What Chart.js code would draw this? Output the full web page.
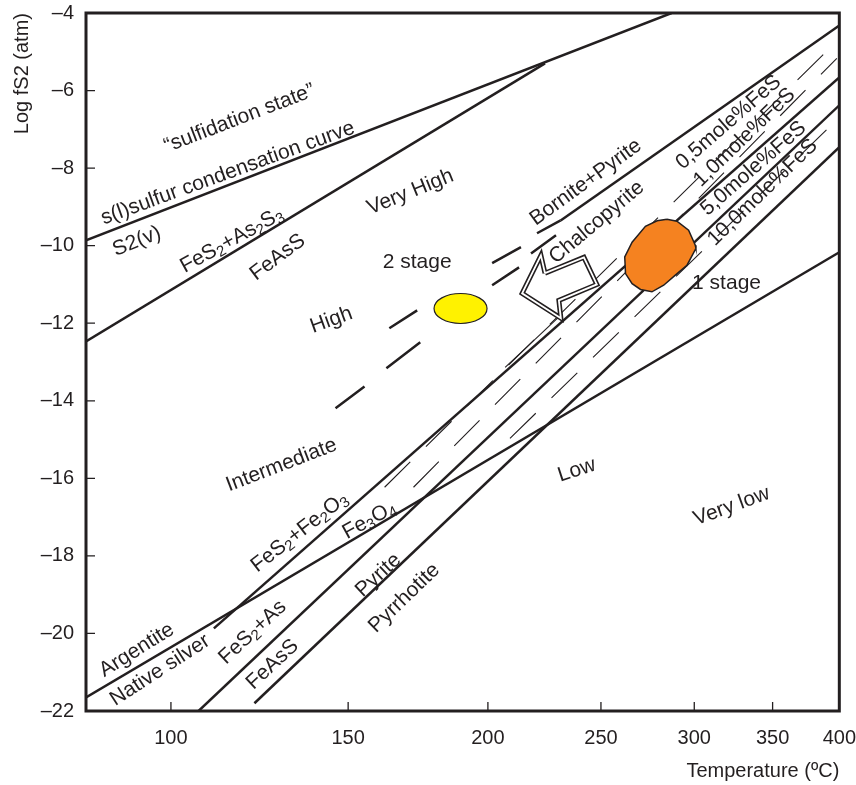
<!DOCTYPE html>
<html>
<head>
<meta charset="utf-8">
<script src="https://cdn.jsdelivr.net/npm/chart.js@4.4.1/dist/chart.umd.min.js"></script>
<style>
  html, body { margin: 0; padding: 0; background: #fff; overflow: hidden; }
  canvas { display: block; }
</style>
</head>
<body>
<canvas id="chart" width="856" height="785"></canvas>
<script>
// all temperatures in °C, all fugacities as log fS2 (atm)
const tickTemps = [100, 150, 200, 250, 300, 350, 400];
const tickLogs = [-22, -20, -18, -16, -14, -12, -10, -8, -6, -4];

const sulfurCurveT = [80, 287];
const sulfurCurveLog = [-9.86, -4.0];
const orpimentT = [80, 224];            // FeS2+As2S3 / FeAsS
const orpimentLog = [-12.47, -5.30];
const borniteT = [400, 231];            // Bornite+Pyrite / Chalcopyrite
const borniteLog = [-4.32, -9.35];
const hematiteT = [111, 400];           // FeS2+Fe2O3 / Fe3O4
const hematiteLog = [-19.87, -5.66];
const argentiteT = [80, 400];           // Argentite / Native silver
const argentiteLog = [-21.65, -10.17];
const arsenicT = [107, 400];            // FeS2+As / FeAsS
const arsenicLog = [-22, -6.38];
const pyrrhotiteT = [122, 400];         // Pyrite / Pyrrhotite
const pyrrhotiteLog = [-21.8, -7.46];
const chalcoT = [207, 230];
const chalcoLog = [-13.14, -11.85];

// sphalerite FeS isopleths (thin dashed)
const isoAT = [162, 397];
const isoALog = [-16.23, -4.76];
const isoBT = [172, 398];
const isoBLog = [-16.23, -5.17];
const isoCT = [209, 400];
const isoCLog = [-14.97, -6.69];

// sulfidation state boundaries (dashed, null = gap)
const highT = [231, 220.5, null, 213.6, 201.7, null, 173.3, 163.6];
const highLog = [-9.35, -9.68, null, -10.04, -10.45, null, -11.67, -12.13];
const interT = [228.9, 217.9, null, 212.8, 201.7, null, 174.4, 162.6, null, 155.3, 146.0];
const interLog = [-9.73, -10.20, null, -10.56, -11.02, null, -12.49, -13.16, null, -13.63, -14.19];

// stage 1 field (orange) and stage 2 point (yellow)
const stage1T = [284.4, 290.0, 296.7, 300.6, 301.0, 295.7, 289.1, 282.6, 276.2, 270.1, 265.7, 262.3, 261.9, 265.7, 272.7, 279.0, 284.4];
const stage1Log = [-9.32, -9.37, -9.60, -9.99, -10.07, -10.51, -10.76, -11.02, -11.19, -11.13, -10.98, -10.72, -10.29, -9.91, -9.50, -9.36, -9.32];
const stage2T = 189.3;
const stage2Log = -11.62;

// evolution arrow
const arrowT = [224.0, 241.8, 248.0, 230.2, 231.1, 214.1, 222.2, 224.0];
const arrowLog = [-10.71, -10.30, -11.00, -11.41, -11.87, -11.23, -10.25, -10.71];

const notes = [
  ['\u201csulfidation state\u201d', 117.9, -6.72, -21],
  ['s(l)sulfur condensation curve', 114.7, -8.13, -20],
  ['S2(v)', 91.7, -9.89, -22],
  ['FeS_2+As_2S_3', 115.8, -9.86, -29],
  ['FeAsS', 128.6, -10.30, -37],
  ['Very High', 170.9, -8.62, -22],
  ['2 stage', 173.3, -10.43, 0],
  ['High', 144.7, -11.92, -20],
  ['Bornite+Pyrite', 242.7, -8.37, -36],
  ['Chalcopyrite', 248.0, -9.40, -40],
  ['0,5mole%FeS', 320.9, -6.82, -41],
  ['1,0mole%FeS', 331.1, -7.21, -44],
  ['5,0mole%FeS', 337.0, -8.01, -41],
  ['10,0mole%FeS', 343.1, -8.63, -44],
  ['1 stage', 319.6, -10.97, 0],
  ['Intermediate', 129.7, -15.66, -21],
  ['FeS_2+Fe_2O_3', 135.0, -17.39, -38],
  ['Fe_3O_4', 156.9, -17.08, -29],
  ['Argentite', 91.7, -20.43, -32],
  ['Native silver', 97.3, -20.95, -33],
  ['FeS_2+As', 121.5, -19.97, -43],
  ['FeAsS', 127.1, -20.80, -43],
  ['Pyrite', 159.9, -18.50, -43],
  ['Pyrrhotite', 168.8, -19.09, -44],
  ['Low', 238.5, -15.79, -18],
  ['Very low', 322.8, -16.72, -20],
];

const INK = '#231f20';
const FAMILY = '"Liberation Sans", Arial, Helvetica, sans-serif';
Chart.defaults.font.family = FAMILY;
Chart.defaults.color = INK;

// x axis is linear in -1000/T(K), so hot is on the right
const inv = t => -1000 / (t + 273.15);

const line = (T, L, extra) => Object.assign({
  type: 'scatter',
  showLine: true,
  data: T.map((t, i) => ({ x: t === null ? null : inv(t), y: L[i] })),
  borderColor: INK,
  borderWidth: 2.5,
  pointRadius: 0,
  tension: 0,
  fill: false,
  order: 5
}, extra);

const thinDash = { borderWidth: 1.1, borderDash: [36, 22] };

const datasets = [
  line(stage1T, stage1Log, { fill: 'shape', backgroundColor: '#f58220', borderWidth: 1.5, order: 0 }),
  line(arrowT, arrowLog, { borderColor: '#fff', borderWidth: 1.8, order: 1 }),
  line(arrowT, arrowLog, { fill: 'shape', backgroundColor: '#fff', borderWidth: 5, borderJoinStyle: 'miter', order: 2 }),
  line(sulfurCurveT, sulfurCurveLog),
  line(orpimentT, orpimentLog),
  line(borniteT, borniteLog),
  line(hematiteT, hematiteLog),
  line(argentiteT, argentiteLog),
  line(arsenicT, arsenicLog),
  line(pyrrhotiteT, pyrrhotiteLog),
  line(chalcoT, chalcoLog, { borderWidth: 1.1 }),
  line(isoAT, isoALog, thinDash),
  line(isoBT, isoBLog, thinDash),
  line(isoCT, isoCLog, thinDash),
  line(highT, highLog),
  line(interT, interLog),
];

function drawRich(ctx, text) {
  const parts = text.split(/(_\d)/).filter(Boolean).map(p =>
    p[0] === '_' ? { t: p.slice(1), sub: true } : { t: p, sub: false });
  let w = 0;
  parts.forEach(p => {
    ctx.font = (p.sub ? '15px ' : '21px ') + FAMILY;
    p.w = ctx.measureText(p.t).width;
    w += p.w;
  });
  let x = -w / 2;
  parts.forEach(p => {
    ctx.font = (p.sub ? '15px ' : '21px ') + FAMILY;
    ctx.fillText(p.t, x, p.sub ? 5 : 0);
    x += p.w;
  });
}

const decorations = {
  id: 'decorations',
  afterDatasetsDraw(chart) {
    const { ctx, scales: { x, y } } = chart;
    ctx.save();
    // stage 2 ellipse
    ctx.beginPath();
    ctx.ellipse(x.getPixelForValue(inv(stage2T)), y.getPixelForValue(stage2Log), 26.5, 15, 0, 0, Math.PI * 2);
    ctx.fillStyle = '#fff200';
    ctx.fill();
    ctx.lineWidth = 1.2;
    ctx.strokeStyle = INK;
    ctx.stroke();

    ctx.fillStyle = INK;
    ctx.textAlign = 'left';
    ctx.textBaseline = 'middle';
    notes.forEach(([text, t, v, angle]) => {
      ctx.save();
      ctx.translate(x.getPixelForValue(inv(t)), y.getPixelForValue(v));
      ctx.rotate(angle * Math.PI / 180);
      drawRich(ctx, text);
      ctx.restore();
    });
    ctx.restore();
  },
  afterDraw(chart) {
    const { ctx, chartArea: a, scales: { x, y } } = chart;
    ctx.save();
    ctx.strokeStyle = INK;
    ctx.lineWidth = 1.3;
    ctx.beginPath();
    x.ticks.forEach(tk => {
      const px = x.getPixelForValue(tk.value);
      ctx.moveTo(px, a.bottom);
      ctx.lineTo(px, a.bottom - 9);
    });
    y.ticks.forEach(tk => {
      const py = y.getPixelForValue(tk.value);
      ctx.moveTo(a.left, py);
      ctx.lineTo(a.left + 9, py);
    });
    ctx.stroke();
    ctx.lineWidth = 3;
    ctx.strokeRect(a.left, a.top, a.right - a.left, a.bottom - a.top);
    ctx.restore();
  }
};

// invisible tick marks only used to space the tick labels from the frame
const spacer = len => ({
  display: true,
  drawOnChartArea: false,
  drawTicks: true,
  tickLength: len,
  color: 'transparent',
  tickColor: 'transparent'
});

new Chart(document.getElementById('chart'), {
  type: 'scatter',
  data: { datasets },
  options: {
    responsive: false,
    animation: false,
    events: [],
    layout: { padding: { top: 13, left: 0, right: 0, bottom: 0 } },
    plugins: { legend: { display: false }, tooltip: { enabled: false } },
    scales: {
      x: {
        type: 'linear',
        min: inv(80),
        max: inv(400),
        afterBuildTicks: s => { s.ticks = tickTemps.map(t => ({ value: inv(t) })); },
        afterFit: s => { s.height = 74; },
        ticks: {
          callback: v => Math.round(-1000 / v - 273.15),
          font: { size: 20 },
          padding: 0,
          maxRotation: 0,
          autoSkip: false
        },
        grid: spacer(15),
        border: { display: false },
        title: {
          display: true,
          text: 'Temperature (ºC)',
          align: 'end',
          font: { size: 20 },
          padding: { top: 0, bottom: 2 }
        }
      },
      y: {
        min: -22,
        max: -4,
        afterBuildTicks: s => { s.ticks = tickLogs.map(v => ({ value: v })); },
        afterFit: s => { s.width = 86; },
        ticks: {
          callback: v => (v < 0 ? '\u2013' + Math.abs(v) : v),
          font: { size: 20 },
          padding: 0
        },
        grid: spacer(12),
        border: { display: false },
        title: {
          display: true,
          text: 'Log fS2 (atm)',
          align: 'end',
          font: { size: 20 },
          padding: { top: 10, bottom: 0 }
        }
      }
    }
  },
  plugins: [decorations]
});
</script>
</body>
</html>
